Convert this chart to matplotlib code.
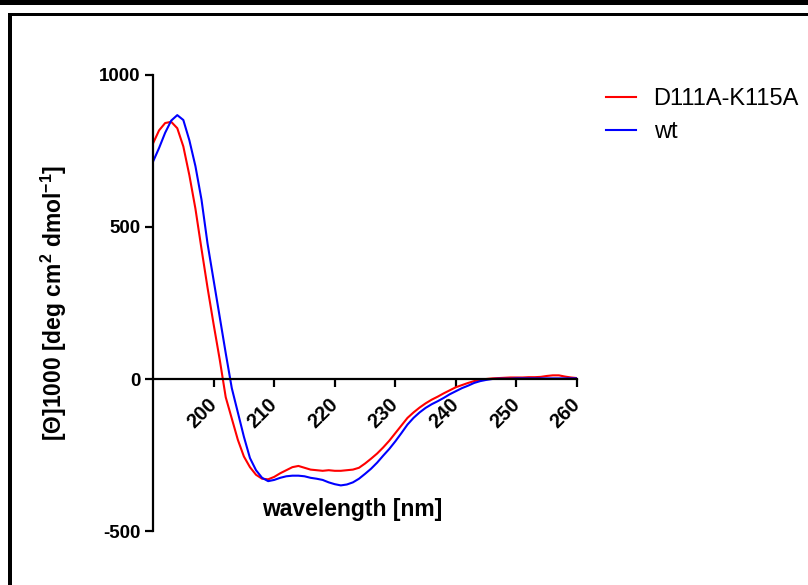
import numpy as np
import matplotlib
matplotlib.use("Agg")
import matplotlib.pyplot as plt
import matplotlib.transforms as mtransforms
from matplotlib.patches import Rectangle

plt.rcParams['font.family'] = ['Liberation Sans', 'DejaVu Sans']
plt.rcParams['axes.unicode_minus'] = False
plt.rcParams['mathtext.fontset'] = 'custom'
plt.rcParams['mathtext.rm'] = 'Liberation Sans:bold'
plt.rcParams['mathtext.it'] = 'Liberation Sans:bold'
plt.rcParams['mathtext.bf'] = 'Liberation Sans:bold'

# CD spectra, mean residue ellipticity / 1000
wavelength = [190, 191, 192, 193, 194, 195, 196, 197, 198, 199,
              200, 201, 202, 203, 204, 205, 206, 207, 208, 209,
              210, 211, 212, 213, 214, 215, 216, 217, 218, 219,
              220, 221, 222, 223, 224, 225, 226, 227, 228, 229,
              230, 231, 232, 233, 234, 235, 236, 237, 238, 239,
              240, 241, 242, 243, 244, 245, 246, 247, 248, 249,
              250, 251, 252, 253, 254, 255, 256, 257, 258, 259, 260]

mutant = [775, 818, 842, 846, 825, 765, 670, 560, 428, 300,
          180, 65, -60, -130, -200, -255, -290, -315, -328, -330,
          -322, -310, -300, -290, -286, -292, -298, -300, -302, -300,
          -302, -302, -300, -298, -292, -278, -262, -245, -225, -203,
          -178, -153, -128, -110, -94, -80, -68, -58, -47, -37,
          -27, -20, -13, -7, -3, 0, 2, 3, 4, 5,
          5, 5, 6, 6, 7, 10, 12, 12, 8, 5, 3]

wt = [715, 760, 810, 850, 868, 852, 785, 700, 590, 445,
      325, 205, 85, -30, -110, -190, -260, -300, -325, -336,
      -332, -325, -320, -318, -318, -320, -325, -328, -332, -340,
      -346, -350, -347, -340, -328, -312, -295, -275, -252, -230,
      -205, -178, -150, -128, -110, -95, -83, -73, -62, -50,
      -40, -30, -22, -13, -7, -3, 0, 1, 1, 1,
      2, 2, 2, 2, 2, 2, 2, 2, 2, 2, 2]

xticks = [200, 210, 220, 230, 240, 250, 260]
yticks = [-500, 0, 500, 1000]

fig = plt.figure(figsize=(8.08, 5.85), dpi=100)
ax = fig.add_axes([0.1894, 0.0923, 0.5248, 0.7795])

ax.plot(wavelength, mutant, color='#ff0000', lw=1.5, label='D111A-K115A')
ax.plot(wavelength, wt, color='#0000ff', lw=1.5, label='wt')

ax.set_xlim(190, 260)
ax.set_ylim(-500, 1000)
ax.set_xticks(xticks)
ax.set_yticks(yticks)

for side in ['top', 'right']:
    ax.spines[side].set_visible(False)
ax.spines['bottom'].set_position(('data', 0))
for side in ['left', 'bottom']:
    ax.spines[side].set_linewidth(1.6)
ax.tick_params(direction='out', length=6, width=1.6, labelsize=13.5, pad=3)
ax.tick_params(axis='x', pad=5, labelsize=14.5)

for lab in ax.get_yticklabels():
    lab.set_fontweight('bold')
shift = mtransforms.ScaledTranslation(7 / 100, 0, fig.dpi_scale_trans)
for lab in ax.get_xticklabels():
    lab.set_fontweight('bold')
    lab.set_rotation(45)
    lab.set_ha('right')
    lab.set_va('top')
    lab.set_transform(lab.get_transform() + shift)

ax.set_xlabel('wavelength [nm]', fontsize=16.5, fontweight='bold')
ax.xaxis.set_label_coords(0.469, 0.072)
ax.set_ylabel(r'[$\Theta$]1000 [deg cm$^{2}$ dmol$^{-1}$]', fontsize=16.5, fontweight='bold')
ax.yaxis.set_label_coords(-0.198, 0.5)

ax.legend(loc='upper left', bbox_to_anchor=(0.73, 0.877), bbox_transform=fig.transFigure,
          frameon=False, fontsize=17, handlelength=1.25, handletextpad=0.75,
          labelspacing=0.45, borderpad=0.2)

# page frame
fig.add_artist(Rectangle((0, 1 - 5 / 585), 1, 5 / 585, transform=fig.transFigure,
                         color='black', lw=0))
fig.add_artist(Rectangle((8 / 808, 1 - 16 / 585), 1, 3.5 / 585, transform=fig.transFigure,
                         color='black', lw=0))
fig.add_artist(Rectangle((8 / 808, 0), 3.5 / 808, 1 - 12.5 / 585, transform=fig.transFigure,
                         color='black', lw=0))

fig.savefig('out.png', dpi=100)
